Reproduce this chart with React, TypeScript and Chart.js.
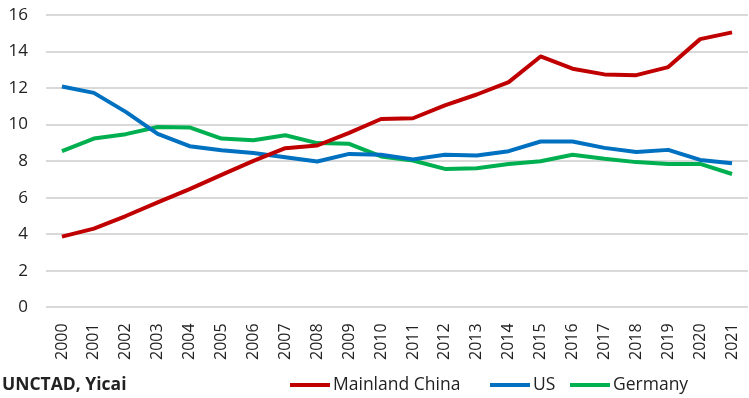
import React, { useEffect, useRef } from "react";
import { Chart, registerables } from "chart.js";

Chart.register(...registerables);

const years = ["2000","2001","2002","2003","2004","2005","2006","2007","2008","2009","2010","2011","2012","2013","2014","2015","2016","2017","2018","2019","2020","2021"];
const chinaValues = [3.87, 4.31, 5.0, 5.75, 6.47, 7.25, 8.02, 8.71, 8.86, 9.55, 10.31, 10.35, 11.05, 11.65, 12.33, 13.73, 13.06, 12.75, 12.71, 13.15, 14.68, 15.05];
const usValues = [12.09, 11.74, 10.7, 9.5, 8.82, 8.6, 8.45, 8.22, 7.98, 8.4, 8.35, 8.1, 8.35, 8.31, 8.55, 9.08, 9.08, 8.73, 8.5, 8.62, 8.07, 7.89];
const germanyValues = [8.55, 9.24, 9.48, 9.87, 9.85, 9.24, 9.15, 9.42, 8.99, 8.95, 8.26, 8.04, 7.58, 7.62, 7.85, 8.0, 8.35, 8.13, 7.95, 7.85, 7.85, 7.3];
const seriesNames = ["Mainland China", "US", "Germany"];
const seriesColors = ["#C00000", "#0070C0", "#00B050"];
const sourceText = "UNCTAD, Yicai";

const FONT = "'Open Sans', sans-serif";

const footerPlugin = {
  id: "footerLegend",
  afterDraw(chart: any) {
    const ctx = chart.ctx;
    ctx.save();
    const y = 385;
    ctx.textBaseline = "middle";
    ctx.fillStyle = "#222";
    ctx.font = `bold 17.5px ${FONT}`;
    ctx.textAlign = "left";
    ctx.fillText(sourceText, 2, y);
    ctx.font = `17.5px ${FONT}`;
    const starts = [290, 490, 570];
    chart.data.datasets.forEach((ds: any, i: number) => {
      const x = starts[i];
      ctx.strokeStyle = ds.borderColor;
      ctx.lineWidth = 4;
      ctx.beginPath();
      ctx.moveTo(x, y);
      ctx.lineTo(x + 40, y);
      ctx.stroke();
      ctx.fillStyle = "#222";
      ctx.fillText(ds.label, x + 43, y);
    });
    ctx.restore();
  },
};

export default function App() {
  const ref = useRef<HTMLCanvasElement | null>(null);
  useEffect(() => {
    document.body.style.margin = "0";
    const datas = [chinaValues, usValues, germanyValues];
    const chart = new Chart(ref.current as HTMLCanvasElement, {
      type: "line",
      data: {
        labels: years,
        datasets: datas.map((d, i) => ({
          label: seriesNames[i],
          data: d,
          borderColor: seriesColors[i],
          backgroundColor: seriesColors[i],
          borderWidth: 4,
          pointRadius: 0,
          tension: 0,
          borderJoinStyle: "round" as const,
        })),
      },
      options: {
        animation: false,
        responsive: false,
        maintainAspectRatio: false,
        layout: { padding: { left: 8, right: 1, top: 15, bottom: 30 } },
        plugins: { legend: { display: false }, tooltip: { enabled: false } },
        scales: {
          x: {
            offset: true,
            grid: { display: false },
            border: { display: false },
            afterFit: (scale: any) => {
              scale.paddingLeft = 0;
              scale.paddingRight = 0;
            },
            ticks: {
              color: "#222",
              font: { family: FONT, size: 16 },
              minRotation: 90,
              maxRotation: 90,
              padding: 8,
              autoSkip: false,
            },
          },
          y: {
            min: 0,
            max: 16,
            grid: { color: "#d9d9d9", lineWidth: 2, drawTicks: false },
            border: { display: false },
            afterFit: (scale: any) => {
              scale.width = 38;
              scale.paddingTop = 10;
              scale.paddingBottom = 10;
            },
            ticks: {
              stepSize: 2,
              color: "#222",
              font: { family: FONT, size: 17 },
              padding: 18,
            },
          },
        },
      },
      plugins: [footerPlugin],
    });
    return () => chart.destroy();
  }, []);
  return (
    <div style={{ position: "absolute", left: 0, top: 0, width: 749, height: 398 }}>
      <canvas ref={ref} width={749} height={398} style={{ width: 749, height: 398 }} />
    </div>
  );
}
